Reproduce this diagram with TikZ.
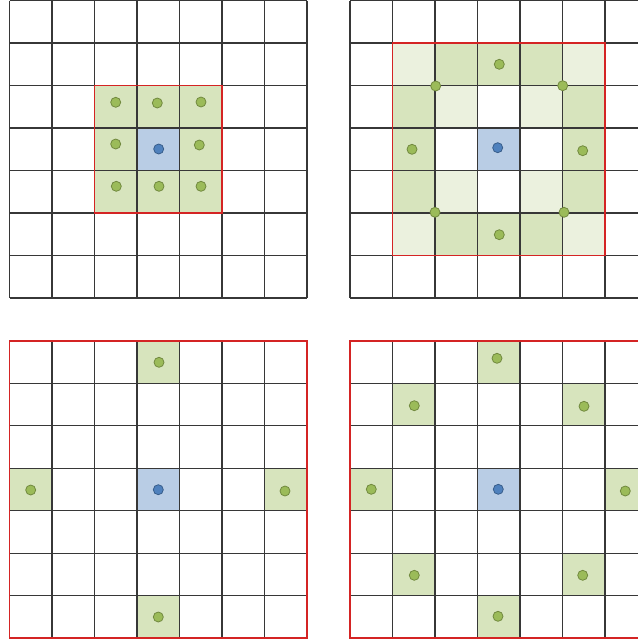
\documentclass[tikz,border=0pt]{standalone}
\definecolor{gridc}{RGB}{55,55,55}
\definecolor{redc}{RGB}{212,36,36}
\definecolor{gfill}{RGB}{215,228,189}
\definecolor{glight}{RGB}{235,241,222}
\definecolor{bfill}{RGB}{185,205,229}
\definecolor{gdot}{RGB}{155,187,89}
\definecolor{gdotb}{RGB}{113,137,63}
\definecolor{bdot}{RGB}{79,129,189}
\definecolor{bdotb}{RGB}{56,93,138}
\tikzset{
  gridline/.style={draw=gridc, line width=0.8pt},
  redbox/.style={draw=redc, line width=1.4pt},
  gcell/.style={fill=gfill},
  lcell/.style={fill=glight},
  bcell/.style={fill=bfill},
  gpt/.style={circle, fill=gdot, draw=gdotb, line width=0.6pt, inner sep=0pt, minimum size=7.5pt},
  bpt/.style={circle, fill=bdot, draw=bdotb, line width=0.6pt, inner sep=0pt, minimum size=7.5pt},
}
\newcommand\gridcell[5]{\path[#5] ({#1+#3*42.5},{#2+#4*42.5}) rectangle ++(42.5,42.5);}
\newcommand\drawgrid[2]{%
  \foreach \i in {0,...,7}{%
    \draw[gridline] ({#1+\i*42.5},#2) -- ++(0,297.5);
    \draw[gridline] (#1,{#2+\i*42.5}) -- ++(297.5,0);
  }}
\begin{document}
\begin{tikzpicture}[x=0.75pt,y=-0.75pt]
\useasboundingbox (0,0) rectangle (638,643);
\clip (0,0) rectangle (638,643);
\fill[white] (0,0) rectangle (638,643);

% ---------- top-left ----------
\foreach \c/\r in {2/2,3/2,4/2,2/3,4/3,2/4,3/4,4/4}{\gridcell{9.5}{0.5}{\c}{\r}{gcell}}
\gridcell{9.5}{0.5}{3}{3}{bcell}
\drawgrid{9.5}{0.5}
\draw[redbox] (94.5,85.5) rectangle ++(127.5,127.5);
\node[gpt] (a1) at (115.7,102.3) {};
\node[gpt] (a2) at (157.3,103) {};
\node[gpt] (a3) at (201,102) {};
\node[gpt] (a4) at (115.7,144) {};
\node[gpt] (a5) at (199.3,145) {};
\node[gpt] (a6) at (116.3,186.3) {};
\node[gpt] (a7) at (159,186.3) {};
\node[gpt] (a8) at (201,186.3) {};
\node[bpt] (ac) at (158.7,149) {};

% ---------- top-right ----------
\foreach \c/\r in {2/1,3/1,4/1,2/5,3/5,4/5,1/2,1/3,1/4,5/2,5/3,5/4}{\gridcell{350}{0.5}{\c}{\r}{gcell}}
\foreach \c/\r in {1/1,5/1,1/5,5/5,2/2,4/2,2/4,4/4}{\gridcell{350}{0.5}{\c}{\r}{lcell}}
\gridcell{350}{0.5}{3}{3}{bcell}
\drawgrid{350}{0.5}
\draw[redbox] (392.5,43) rectangle ++(212.5,212.5);
\node[gpt] (b1) at (499.3,64.3) {};
\node[gpt] (b2) at (435.7,86) {};
\node[gpt] (b3) at (562.7,85.7) {};
\node[gpt] (b4) at (412,149.3) {};
\node[gpt] (b5) at (582.7,150.7) {};
\node[gpt] (b6) at (435,212.3) {};
\node[gpt] (b7) at (564,212.3) {};
\node[gpt] (b8) at (499.3,234.7) {};
\node[bpt] (bc) at (497.7,147.7) {};

% ---------- bottom-left ----------
\foreach \c/\r in {3/0,0/3,6/3,3/6}{\gridcell{9.5}{340.8}{\c}{\r}{gcell}}
\gridcell{9.5}{340.8}{3}{3}{bcell}
\drawgrid{9.5}{340.8}
\draw[redbox] (9.5,340.8) rectangle ++(297.5,297.5);
\node[gpt] (c1) at (159,362.3) {};
\node[gpt] (c2) at (30.7,490) {};
\node[gpt] (c3) at (285,491) {};
\node[gpt] (c4) at (158.3,617) {};
\node[bpt] (cc) at (158.3,489.7) {};

% ---------- bottom-right ----------
\foreach \c/\r in {3/0,1/1,5/1,0/3,6/3,1/5,5/5,3/6}{\gridcell{350}{340.8}{\c}{\r}{gcell}}
\gridcell{350}{340.8}{3}{3}{bcell}
\drawgrid{350}{340.8}
\draw[redbox] (350,340.8) rectangle ++(297.5,297.5);
\node[gpt] (d1) at (497,358.3) {};
\node[gpt] (d2) at (414.3,405.7) {};
\node[gpt] (d3) at (584,406.3) {};
\node[gpt] (d4) at (371.3,489.3) {};
\node[gpt] (d5) at (625.3,491) {};
\node[gpt] (d6) at (414.3,575.3) {};
\node[gpt] (d7) at (582.7,575.3) {};
\node[gpt] (d8) at (498,616.3) {};
\node[bpt] (dc) at (498.3,489.3) {};
\end{tikzpicture}
\end{document}
